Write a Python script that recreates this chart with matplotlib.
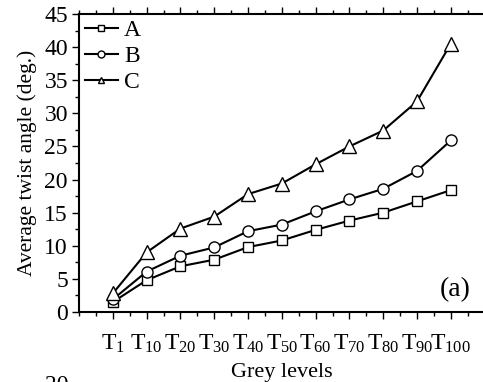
import matplotlib
matplotlib.use("Agg")
import matplotlib.pyplot as plt
from matplotlib.ticker import MultipleLocator

plt.rcParams['font.family'] = ['Liberation Serif', 'DejaVu Serif']
plt.rcParams['mathtext.fontset'] = 'custom'
plt.rcParams['mathtext.rm'] = 'Liberation Serif'
plt.rcParams['mathtext.it'] = 'Liberation Serif:italic'

categories = [r'T$_{1}$', r'T$_{10}$', r'T$_{20}$', r'T$_{30}$', r'T$_{40}$', r'T$_{50}$',
              r'T$_{60}$', r'T$_{70}$', r'T$_{80}$', r'T$_{90}$', r'T$_{100}$']
series_A = [1.5, 4.8, 6.9, 7.9, 9.8, 10.8, 12.4, 13.8, 15.0, 16.7, 18.4]
series_B = [1.9, 6.1, 8.5, 9.75, 12.2, 13.2, 15.2, 17.0, 18.6, 21.3, 25.9]
series_C = [2.8, 9.0, 12.6, 14.4, 17.8, 19.4, 22.3, 25.0, 27.4, 31.8, 40.5]

fig = plt.figure(figsize=(4.83, 3.82), dpi=100)
ax = fig.add_axes([79/483, 1-312/382, 405.6/483, 298/382])

x = list(range(1, len(categories) + 1))
ax.plot(x, series_A, '-', color='black', lw=1.5, marker='s', ms=7, mfc='white', mec='black', mew=1.0, label='A')
ax.plot(x, series_B, '-', color='black', lw=1.5, marker='o', ms=8, mfc='white', mec='black', mew=1.0, label='B')
ax.plot(x, series_C, '-', color='black', lw=1.5, marker='^', ms=9.5, mfc='white', mec='black', mew=1.0, label='C')

ax.set_xlim(0, 12)
ax.set_ylim(0, 45)
ax.set_xticks(x)
ax.set_xticklabels(categories)
ax.xaxis.set_minor_locator(MultipleLocator(0.5))
ax.yaxis.set_major_locator(MultipleLocator(5))
ax.yaxis.set_minor_locator(MultipleLocator(2.5))

ax.tick_params(axis='both', which='major', direction='out', length=5, width=1.0, labelsize=17)
ax.tick_params(axis='both', which='minor', direction='out', length=3, width=1.0)
ax.tick_params(axis='x', which='major', pad=10)
ax.tick_params(axis='x', which='both', top=True)
ax.tick_params(axis='y', which='major', pad=3)
for sp in ax.spines.values():
    sp.set_linewidth(1.5)

ax.set_xlabel('Grey levels', fontsize=16, labelpad=6)
ax.set_ylabel('Average twist angle (deg.)', fontsize=15.5, labelpad=5)

leg = ax.legend(loc='upper left', frameon=False, fontsize=17, handlelength=1.4,
                handletextpad=0.25, labelspacing=0.18, borderaxespad=0.25,
                borderpad=0.0)
for h in leg.legend_handles:
    h.set_markersize(5)

ax.text(0.966, 0.074, '(a)', transform=ax.transAxes, fontsize=20, ha='right', va='center')

fig.text(45/483, 1-375/382, '20', fontsize=17, ha='left', va='top')

fig.savefig('out.png', dpi=100)
